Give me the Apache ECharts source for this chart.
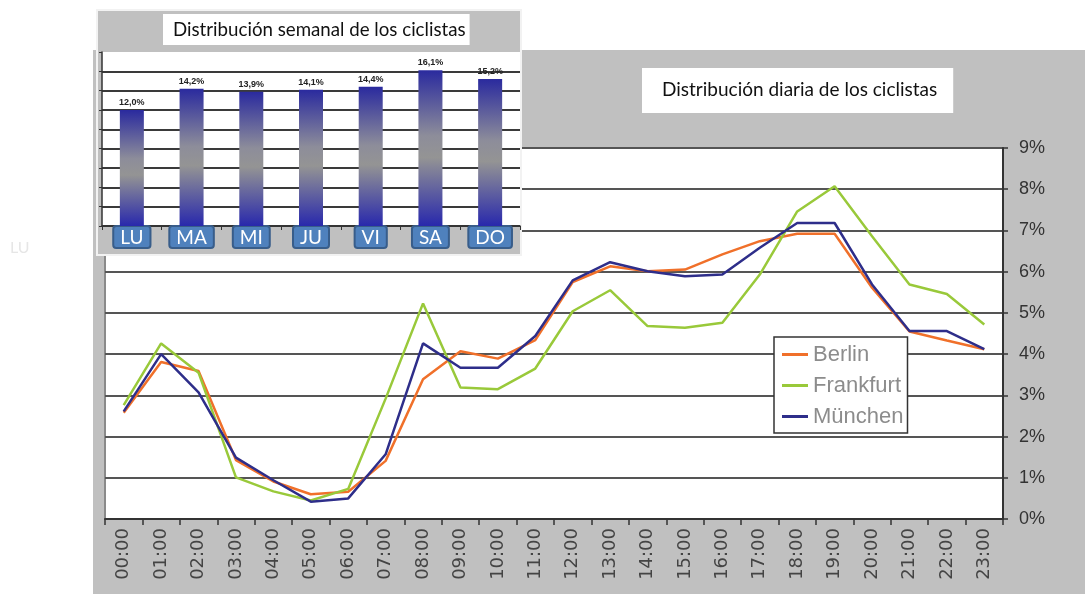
<!DOCTYPE html>
<html>
<head>
<meta charset="utf-8">
<title>Distribución de los ciclistas</title>
<script src="https://cdn.jsdelivr.net/npm/echarts@6/dist/echarts.min.js"></script>
<style>
  html, body { margin: 0; padding: 0; background: #ffffff; }
  #chart { width: 1085px; height: 599px; }
</style>
</head>
<body>
<div id="chart"></div>
<script>
// Hourly share of cyclists (% of the day) per city
const hours = ['00:00', '01:00', '02:00', '03:00', '04:00', '05:00', '06:00', '07:00',
  '08:00', '09:00', '10:00', '11:00', '12:00', '13:00', '14:00', '15:00',
  '16:00', '17:00', '18:00', '19:00', '20:00', '21:00', '22:00', '23:00'];
const berlin = [2.58, 3.81, 3.59, 1.43, 0.91, 0.60, 0.66, 1.41, 3.39, 4.07, 3.89, 4.34,
  5.75, 6.13, 6.01, 6.05, 6.42, 6.74, 6.92, 6.92, 5.61, 4.55, 4.33, 4.12];
const frankfurt = [2.76, 4.26, 3.55, 1.01, 0.67, 0.45, 0.73, 2.92, 5.23, 3.19, 3.15, 3.65,
  5.04, 5.55, 4.68, 4.64, 4.76, 5.93, 7.46, 8.07, 6.86, 5.69, 5.46, 4.72];
const muenchen = [2.61, 4.00, 3.07, 1.49, 0.94, 0.42, 0.50, 1.57, 4.26, 3.67, 3.67, 4.44,
  5.79, 6.23, 6.01, 5.89, 5.93, 6.58, 7.18, 7.18, 5.69, 4.56, 4.56, 4.12];
const cityNames = ['Berlin', 'Frankfurt', 'München'];

// Weekly share of cyclists (% of the week) per weekday
const weekdays = ['LU', 'MA', 'MI', 'JU', 'VI', 'SA', 'DO'];
const weeklyShare = [12.0, 14.2, 13.9, 14.1, 14.4, 16.1, 15.2];

const dailyTitle = 'Distribución diaria de los ciclistas';
const weeklyTitle = 'Distribución semanal de los ciclistas';

const PANEL = '#c0c0c0';
const SANS = '"Liberation Sans", Arial, sans-serif';
const WIDE = '"DejaVu Sans", sans-serif';
const HUMANIST = 'Lato, "Open Sans", sans-serif';

const chart = echarts.init(document.getElementById('chart'), null, { renderer: 'canvas' });

const barGradient = new echarts.graphic.LinearGradient(0, 0, 0, 1, [
  { offset: 0, color: '#2a2a9e' },
  { offset: 0.42, color: '#8d8d9a' },
  { offset: 0.56, color: '#949494' },
  { offset: 1, color: '#2828ac' }
]);

const option = {
  animation: false,
  backgroundColor: '#ffffff',
  graphic: [
    // grey frame of the daily chart
    { type: 'rect', z: -10, shape: { x: 93, y: 50, width: 992, height: 544 }, style: { fill: PANEL } },
    // white plotting area of the daily chart
    { type: 'rect', z: -9, shape: { x: 105, y: 148, width: 898, height: 371 }, style: { fill: '#ffffff' } },
    { type: 'line', z: -8, shape: { x1: 105, y1: 148, x2: 105, y2: 519 }, style: { stroke: '#8a8a8a', lineWidth: 2 } },
    // grey frame of the weekly inset
    { type: 'rect', z: 10, shape: { x: 97, y: 10, width: 424, height: 245 }, style: { fill: PANEL, stroke: '#f2f2f2', lineWidth: 2 } },
    { type: 'rect', z: 11, shape: { x: 102, y: 52, width: 418, height: 174 }, style: { fill: '#ffffff' } },
    // faint leftover day label at the left margin
    { type: 'text', z: 1, style: { text: 'LU', x: 10, y: 240, fill: '#e6e6e6', font: '16px ' + HUMANIST } }
  ],
  title: [
    {
      text: dailyTitle,
      left: 642, top: 68,
      backgroundColor: '#ffffff',
      padding: [11, 16, 12, 20],
      z: 6,
      textStyle: { fontFamily: HUMANIST, fontSize: 19, fontWeight: 'normal', color: '#111111', lineHeight: 22 }
    },
    {
      text: weeklyTitle,
      left: 163, top: 14,
      backgroundColor: '#ffffff',
      padding: [5, 4, 4, 10],
      z: 16,
      textStyle: { fontFamily: HUMANIST, fontSize: 18.7, fontWeight: 'normal', color: '#111111', lineHeight: 22 }
    }
  ],
  legend: {
    data: cityNames,
    orient: 'vertical',
    left: 774, top: 337,
    padding: [5, 4, 4, 8],
    itemGap: 6,
    itemWidth: 26,
    itemHeight: 3,
    icon: 'rect',
    backgroundColor: '#ffffff',
    borderColor: '#333333',
    borderWidth: 1.5,
    z: 8,
    textStyle: { fontFamily: SANS, fontSize: 22, color: '#8c8c8c', lineHeight: 25 }
  },
  grid: [
    { left: 105, right: 82, top: 148, bottom: 80 },
    { left: 102, right: 565, top: 52, bottom: 373 }
  ],
  xAxis: [
    {
      type: 'category', gridIndex: 0, data: hours, boundaryGap: true, z: 1,
      axisLine: { show: true, lineStyle: { color: '#333333', width: 2 } },
      axisTick: { show: true, interval: 0, length: 6, lineStyle: { color: '#333333', width: 1.5 } },
      axisLabel: { interval: 0, rotate: 90, margin: 9, fontFamily: WIDE, fontSize: 18, color: '#444444' },
      splitLine: { show: false }
    },
    {
      type: 'category', gridIndex: 1, data: weekdays, boundaryGap: true, z: 12,
      axisLine: { show: true, lineStyle: { color: '#333333', width: 1.5 } },
      axisTick: { show: true, interval: 0, length: 4, lineStyle: { color: '#333333' } },
      axisLabel: {
        interval: 0, margin: 1,
        fontFamily: HUMANIST, fontSize: 19, lineHeight: 19, color: '#ffffff',
        backgroundColor: '#4f81bd', borderColor: '#385d8a', borderWidth: 2, borderRadius: 2,
        padding: [1, 6, 0, 6]
      },
      splitLine: { show: false }
    }
  ],
  yAxis: [
    {
      type: 'value', gridIndex: 0, position: 'right', min: 0, max: 9, interval: 1, z: 1,
      axisLine: { show: true, lineStyle: { color: '#333333', width: 2 } },
      axisTick: { show: true, length: 5, lineStyle: { color: '#333333', width: 1.5 } },
      axisLabel: { formatter: '{value}%', margin: 16, fontFamily: SANS, fontSize: 18, color: '#333333' },
      splitLine: { show: true, lineStyle: { color: '#555555', width: 2 } }
    },
    {
      type: 'value', gridIndex: 1, min: 0, max: 18, interval: 2, z: 12,
      axisLine: { show: true, lineStyle: { color: '#333333', width: 1.5 } },
      axisTick: { show: true, length: 3, lineStyle: { color: '#333333' } },
      axisLabel: { show: false },
      splitLine: { show: true, showMaxLine: false, lineStyle: { color: '#3a3a3a', width: 2 } }
    }
  ],
  series: [
    {
      name: cityNames[0], type: 'line', xAxisIndex: 0, yAxisIndex: 0, data: berlin,
      symbol: 'none', z: 3, color: '#f0702a', lineStyle: { width: 2.5, color: '#f0702a' }
    },
    {
      name: cityNames[1], type: 'line', xAxisIndex: 0, yAxisIndex: 0, data: frankfurt,
      symbol: 'none', z: 3, color: '#99c93a', lineStyle: { width: 2.5, color: '#99c93a' }
    },
    {
      name: cityNames[2], type: 'line', xAxisIndex: 0, yAxisIndex: 0, data: muenchen,
      symbol: 'none', z: 3, color: '#2e2e8a', lineStyle: { width: 2.5, color: '#2e2e8a' }
    },
    {
      name: 'semana', type: 'bar', xAxisIndex: 1, yAxisIndex: 1, data: weeklyShare,
      barWidth: 24, z: 13,
      itemStyle: { color: barGradient },
      label: {
        show: true, position: 'top', distance: 3,
        formatter: (p) => p.value.toFixed(1).replace('.', ',') + '%',
        fontFamily: SANS, fontSize: 9, fontWeight: 'bold', color: '#222222'
      }
    }
  ]
};

chart.setOption(option);
</script>
</body>
</html>
